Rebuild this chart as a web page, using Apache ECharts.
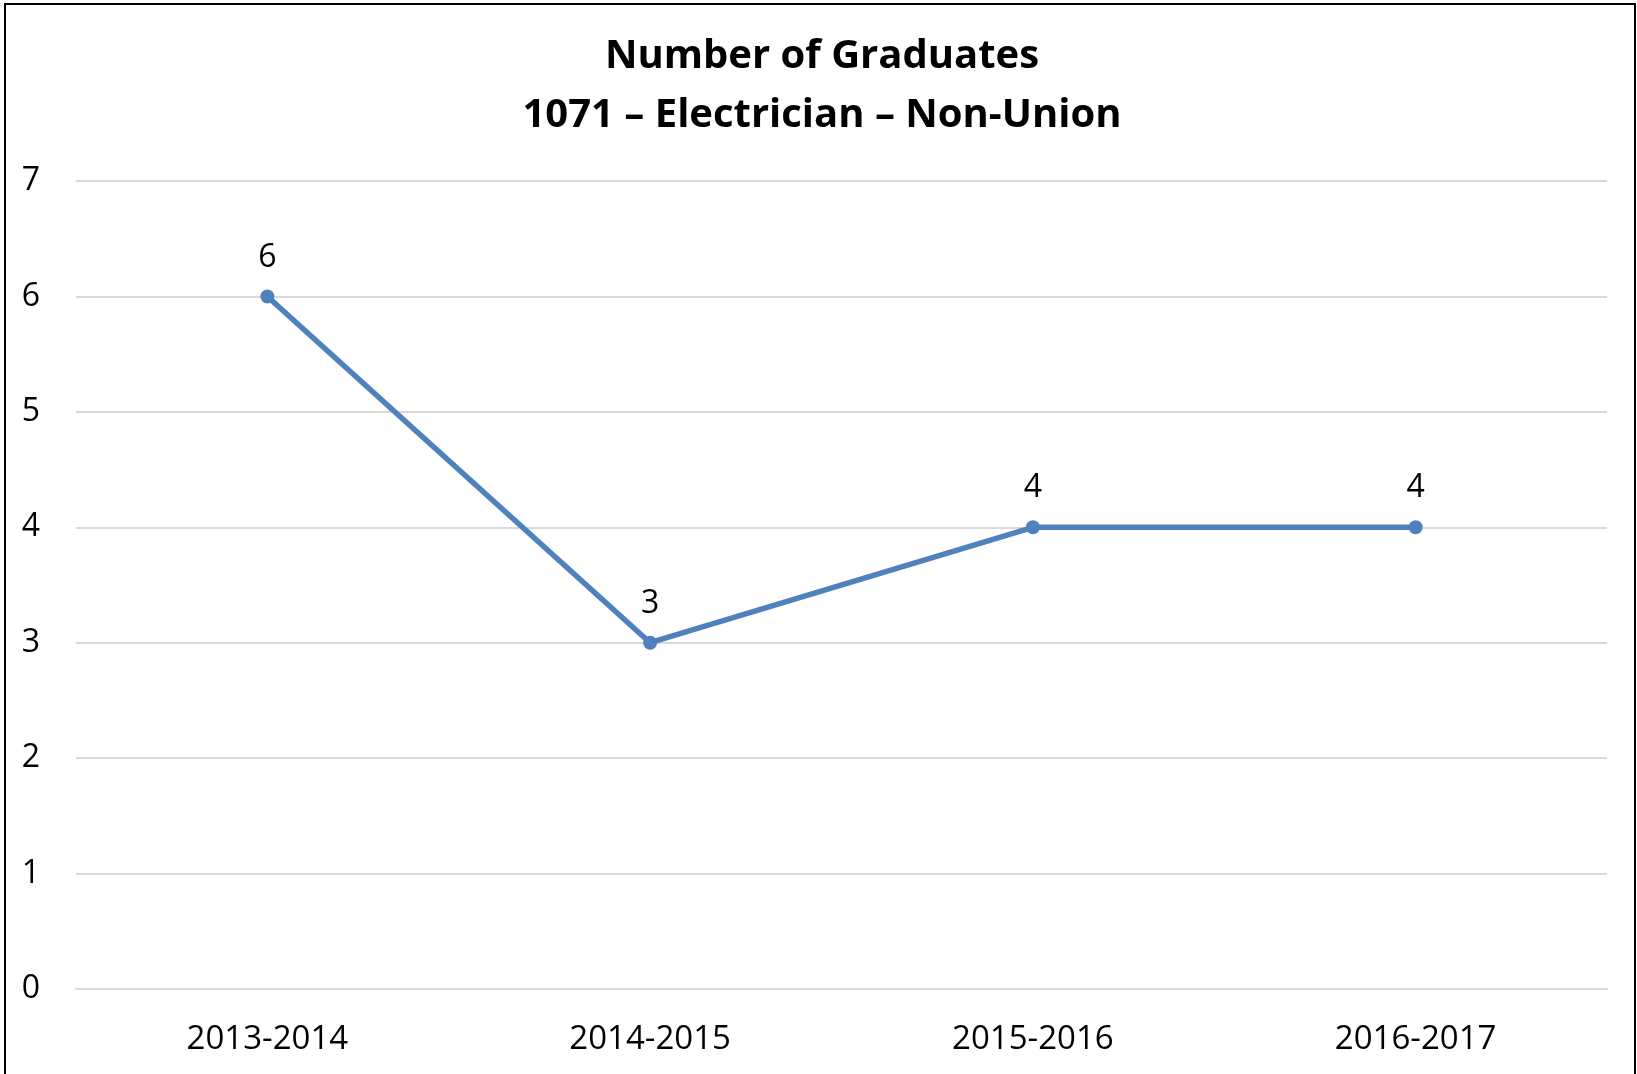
<!DOCTYPE html>
<html>
<head>
<meta charset="utf-8">
<title>Number of Graduates</title>
<script src="https://cdn.jsdelivr.net/npm/echarts@6/dist/echarts.min.js"></script>
<style>
  html, body { margin: 0; padding: 0; background: #fff; }
  #chart { width: 1637px; height: 1074px; }
</style>
</head>
<body>
<div id="chart"></div>
<script>
// data
var categories = ['2013-2014', '2014-2015', '2015-2016', '2016-2017']
var graduates = [6, 3, 4, 4]
var yTicks = [0, 7, 1] // min, max, step

var font = '"Open Sans", "Noto Sans", sans-serif'

var chart = echarts.init(document.getElementById('chart'))
chart.setOption({
  backgroundColor: '#fff',
  animation: false,
  title: {
    text: 'Number of Graduates\n1071 \u2013 Electrician \u2013 Non-Union',
    left: 817,
    top: 22,
    textAlign: 'center',
    textStyle: {
      fontFamily: font,
      fontWeight: 'bold',
      fontSize: 40,
      lineHeight: 59,
      color: '#000'
    }
  },
  graphic: [{
    type: 'rect',
    shape: { x: 5, y: 4, width: 1630, height: 1080 },
    style: { fill: 'none', stroke: '#000', lineWidth: 2 },
    silent: true
  }],
  grid: {
    left: 76,
    right: 30,
    top: 181,
    bottom: 85
  },
  xAxis: {
    type: 'category',
    data: categories,
    axisLine: { lineStyle: { color: '#d9d9d9', width: 2 } },
    axisTick: { show: false },
    axisLabel: {
      color: '#000',
      fontFamily: font,
      fontSize: 33,
      margin: 34
    }
  },
  yAxis: {
    type: 'value',
    min: yTicks[0],
    max: yTicks[1],
    interval: yTicks[2],
    axisLine: { show: false },
    axisTick: { show: false },
    splitLine: { lineStyle: { color: '#d9d9d9', width: 2 } },
    axisLabel: {
      color: '#000',
      fontFamily: font,
      fontSize: 32,
      margin: 36
    }
  },
  series: [{
    name: 'Graduates',
    type: 'line',
    data: graduates,
    symbol: 'circle',
    symbolSize: 14,
    lineStyle: { color: '#4f81bd', width: 5.5 },
    itemStyle: { color: '#4f81bd' },
    label: {
      show: true,
      position: 'top',
      distance: 16,
      color: '#000',
      fontFamily: font,
      fontSize: 32
    }
  }]
})
</script>
</body>
</html>
